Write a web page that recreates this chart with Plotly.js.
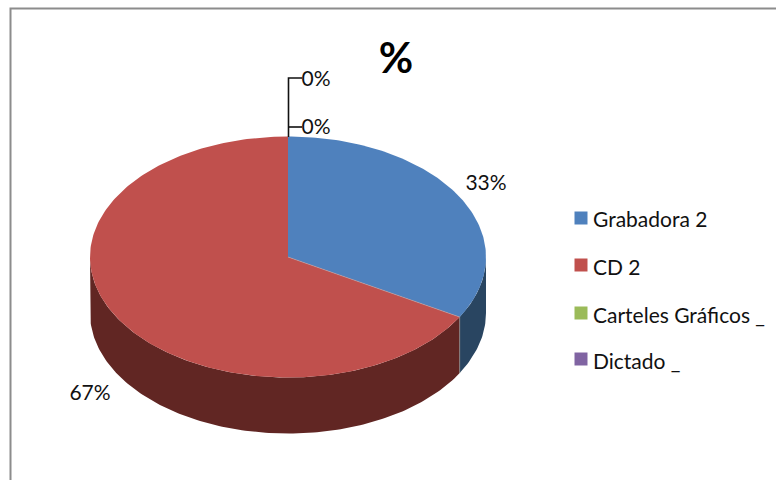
<!DOCTYPE html>
<html><head><meta charset="utf-8">
<script src="https://cdn.plot.ly/plotly-3.0.1.min.js"></script>
<style>html,body{margin:0;padding:0;background:#fff}#c{width:776px;height:480px}</style>
</head><body><div id="c"></div>
<script>
// Data
const categories = ["Grabadora 2", "CD 2", "Carteles Gráficos _", "Dictado _"];
const values = [33.3, 66.7, 0, 0];
const percentLabels = ["33%", "67%", "0%", "0%"];
const topColors = ["#4F81BD", "#C0504D", "#9BBB59", "#8064A2"];
const sideColors = ["#294561", "#612623", "#4E5E2D", "#403251"];

// Geometry (axes run in page pixels)
const CX = 288, CY = 257, RX = 198, RY = 120.5, DEPTH = 56;
const labelX = [486, 90, 316, 316], labelY = [185, 395, 129, 81];
const legendX = 581, legendY = [218, 265, 313, 359], legendTextY = [218, 266, 314, 360];
const FONT = 'Lato,"Open Sans",sans-serif';

const total = values.reduce((a, b) => a + b, 0);
const px = a => CX + RX * Math.sin(a);
const py = a => CY - RY * Math.cos(a);
const DEG = Math.PI / 180;
const traces = [];
let start = 0;
const spans = values.map(v => { const s = [start, start + v / total * 360]; start = s[1]; return s; });

function arc(a0, a1) {
  const n = Math.max(2, Math.ceil(a1 - a0));
  const out = [];
  for (let i = 0; i <= n; i++) out.push((a0 + (a1 - a0) * i / n) * DEG);
  return out;
}
const base = { type: "scatter", hoverinfo: "skip", showlegend: false };

// extruded sides (front half only, 90deg to 270deg)
spans.forEach((s, i) => {
  const a0 = Math.max(s[0], 90), a1 = Math.min(s[1], 270);
  if (a1 <= a0) return;
  const a = arc(a0, a1);
  const xs = a.map(px).concat(a.slice().reverse().map(px));
  const ys = a.map(py).concat(a.slice().reverse().map(t => py(t) + DEPTH));
  traces.push({ ...base, x: xs.concat(xs[0]), y: ys.concat(ys[0]), mode: "lines", fill: "toself",
    fillcolor: sideColors[i], line: { width: 0, color: sideColors[i] } });
});
// top faces
spans.forEach((s, i) => {
  if (s[1] <= s[0]) return;
  const a = arc(s[0], s[1]);
  traces.push({ ...base, x: [CX].concat(a.map(px), CX), y: [CY].concat(a.map(py), CY), mode: "lines", fill: "toself",
    fillcolor: topColors[i], line: { width: 0, color: topColors[i] } });
});
// seam at the first boundary
const seam = spans[0][1] * DEG;
traces.push({ ...base, x: [CX, px(seam)], y: [CY, py(seam)], mode: "lines", line: { width: 0.6, color: "#B9A3A8" } });
traces.push({ ...base, x: [px(seam), px(seam)], y: [py(seam), py(seam) + DEPTH], mode: "lines", line: { width: 0.8, color: "#8A8A8A" } });
// leader lines for the zero slices
traces.push({ ...base, x: [302, CX + 0.5, CX + 0.5], y: [78, 78, 137], mode: "lines",
  line: { width: 1.6, color: "#111111" } });
traces.push({ ...base, x: [CX, 302], y: [127, 127], mode: "lines", line: { width: 1.6, color: "#111111" } });
// percent labels
traces.push({ ...base, x: labelX, y: labelY, mode: "text", text: percentLabels, textposition: "middle center",
  textfont: { family: FONT, size: 21, color: "#111111" } });
// legend
categories.forEach((c, i) => {
  traces.push({ ...base, x: [legendX], y: [legendY[i]], mode: "markers",
    marker: { symbol: "square", size: 13, color: topColors[i] } });
});
const annotations = categories.map((c, i) => ({
  x: 591, y: legendTextY[i], xref: "x", yref: "y", xanchor: "left", yanchor: "middle", text: c, showarrow: false,
  font: { family: FONT, size: 21, color: "#111111" }
}));

const layout = {
  width: 776, height: 480, margin: { l: 0, r: 0, t: 0, b: 0 },
  paper_bgcolor: "#fff", plot_bgcolor: "#fff", showlegend: false,
  title: { text: "%", x: 396 / 776, xanchor: "center", y: 1 - 58 / 480, yanchor: "middle",
    font: { family: FONT, size: 42, color: "#000", weight: 700 } },
  xaxis: { range: [0, 776], visible: false, fixedrange: true },
  yaxis: { range: [480, 0], visible: false, fixedrange: true },
  annotations,
  shapes: [{ type: "path", path: "M 776 8.5 L 10.5 8.5 L 10.5 480", line: { color: "#8C8C8C", width: 2 } }]
};
Plotly.newPlot("c", traces, layout, { staticPlot: true, displayModeBar: false });
</script></body></html>
